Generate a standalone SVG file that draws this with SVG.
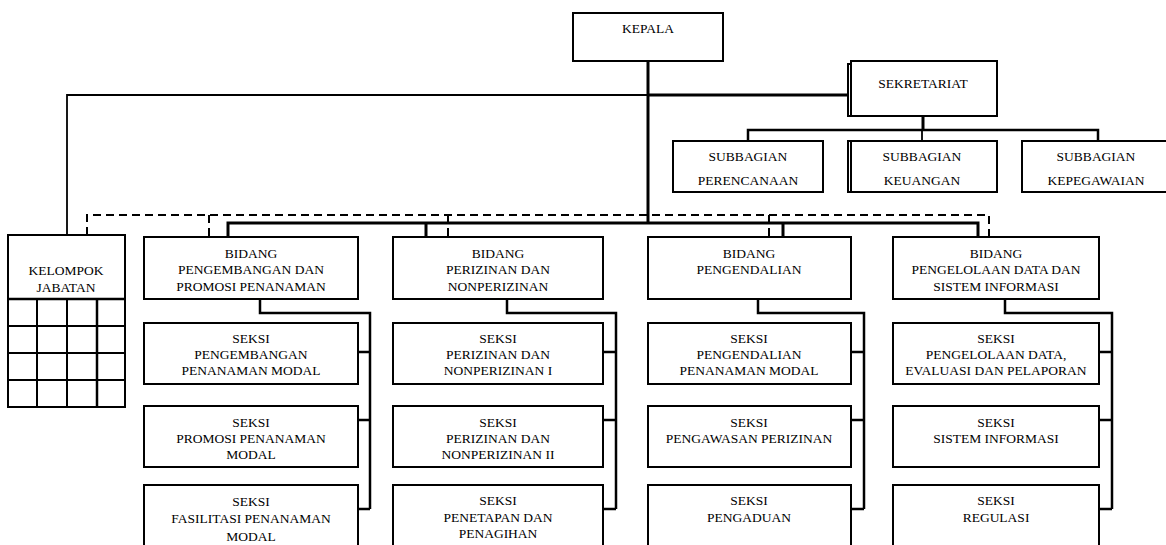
<svg xmlns="http://www.w3.org/2000/svg" width="1166" height="545" viewBox="0 0 1166 545">
<style>
rect{fill:#fff;stroke:#000;stroke-width:2}
text{font-family:"Liberation Serif","Times New Roman",serif;font-size:13.5px;fill:#000;text-anchor:middle}
.c{fill:none;stroke:#000;stroke-width:2.5}
.t{fill:none;stroke:#000;stroke-width:3}
.n{fill:none;stroke:#000;stroke-width:1.8}
.d{fill:none;stroke:#000;stroke-width:2;stroke-dasharray:8,5}
.g{fill:none;stroke:#000;stroke-width:2}
</style>
<rect x="0" y="0" width="1166" height="545" style="fill:#fff;stroke:none"/>
<g id="connectors">
  <path class="t" d="M648,57 V223"/>
  <path class="n" d="M67,235 V95 H648"/>
  <path class="t" d="M648,95 H849"/>
  <path class="t" d="M923,116 V130"/>
  <path class="c" d="M748,141 V130 H1098 V141"/>
  <path class="n" d="M922,130 V141"/>
  <path class="d" d="M87,235 V215 H989 V237"/>
  <path class="d" d="M209,215 V237 M448,215 V237 M769,215 V237"/>
  <path class="t" d="M228,237 V223 H978 V237"/>
  <path class="t" d="M426,223 V237 M783,223 V237"/>
  <path class="c" d="M260,299 V313 H370 V509 M358,352 H370 M358,420 H370 M358,509 H370"/>
  <path class="c" d="M507,299 V313 H616 V509 M603,352 H616 M603,420 H616 M603,509 H616"/>
  <path class="c" d="M758,299 V313 H864 V509 M851,352 H864 M851,420 H864 M851,509 H864"/>
  <path class="c" d="M1005,299 V313 H1112 V509 M1099,352 H1112 M1099,420 H1112 M1099,509 H1112"/>
</g>
<g id="kepala">
  <rect x="573" y="13" width="150" height="48"/>
  <text x="648" y="33">KEPALA</text>
</g>
<g id="sekretariat">
  <rect x="848" y="64" width="149" height="52"/>
  <rect x="851" y="61" width="146" height="55"/>
  <text x="923" y="88">SEKRETARIAT</text>
</g>
<g id="subbagian-perencanaan">
  <rect x="673" y="141" width="150" height="51"/>
  <text x="748" y="161">SUBBAGIAN</text>
  <text x="748" y="185">PERENCANAAN</text>
</g>
<g id="subbagian-keuangan">
  <rect x="848" y="141" width="149" height="51"/>
  <path class="g" d="M851,141 V192"/>
  <text x="922" y="161">SUBBAGIAN</text>
  <text x="922" y="185">KEUANGAN</text>
</g>
<g id="subbagian-kepegawaian">
  <rect x="1022" y="141" width="150" height="51"/>
  <text x="1096" y="161">SUBBAGIAN</text>
  <text x="1096" y="185">KEPEGAWAIAN</text>
</g>
<g id="kelompok-jabatan">
  <rect x="8" y="235" width="117" height="172"/>
  <path class="c" d="M8,299 H125"/>
  <path class="g" d="M8,326 H125 M8,353 H125 M8,380 H125 M37,299 V407 M67,299 V407"/>
  <path class="c" d="M97,299 V407"/>
  <text x="66" y="275">KELOMPOK</text>
  <text x="66" y="292">JABATAN</text>
</g>
<g id="bidang-pengembangan">
  <rect x="144" y="237" width="214" height="62"/>
  <text x="251" y="258">BIDANG</text>
  <text x="251" y="274">PENGEMBANGAN DAN</text>
  <text x="251" y="291">PROMOSI PENANAMAN</text>
</g>
<g id="bidang-perizinan">
  <rect x="393" y="237" width="210" height="62"/>
  <text x="498" y="258">BIDANG</text>
  <text x="498" y="274">PERIZINAN DAN</text>
  <text x="498" y="291">NONPERIZINAN</text>
</g>
<g id="bidang-pengendalian">
  <rect x="648" y="237" width="203" height="62"/>
  <text x="749" y="258">BIDANG</text>
  <text x="749" y="274">PENGENDALIAN</text>
</g>
<g id="bidang-data">
  <rect x="893" y="237" width="206" height="62"/>
  <text x="996" y="258">BIDANG</text>
  <text x="996" y="274">PENGELOLAAN DATA DAN</text>
  <text x="996" y="291">SISTEM INFORMASI</text>
</g>
<g id="seksi-1-1">
  <rect x="144" y="323" width="214" height="61"/>
  <text x="251" y="343">SEKSI</text>
  <text x="251" y="359">PENGEMBANGAN</text>
  <text x="251" y="375">PENANAMAN MODAL</text>
</g>
<g id="seksi-1-2">
  <rect x="144" y="406" width="214" height="61"/>
  <text x="251" y="427">SEKSI</text>
  <text x="251" y="443">PROMOSI PENANAMAN</text>
  <text x="251" y="459">MODAL</text>
</g>
<g id="seksi-1-3">
  <rect x="144" y="485" width="214" height="70"/>
  <text x="251" y="506">SEKSI</text>
  <text x="251" y="523">FASILITASI PENANAMAN</text>
  <text x="251" y="541">MODAL</text>
</g>
<g id="seksi-2-1">
  <rect x="393" y="323" width="210" height="61"/>
  <text x="498" y="343">SEKSI</text>
  <text x="498" y="359">PERIZINAN DAN</text>
  <text x="498" y="375">NONPERIZINAN I</text>
</g>
<g id="seksi-2-2">
  <rect x="393" y="406" width="210" height="61"/>
  <text x="498" y="427">SEKSI</text>
  <text x="498" y="443">PERIZINAN DAN</text>
  <text x="498" y="459">NONPERIZINAN II</text>
</g>
<g id="seksi-2-3">
  <rect x="393" y="485" width="210" height="70"/>
  <text x="498" y="505">SEKSI</text>
  <text x="498" y="522">PENETAPAN DAN</text>
  <text x="498" y="538">PENAGIHAN</text>
</g>
<g id="seksi-3-1">
  <rect x="648" y="323" width="203" height="61"/>
  <text x="749" y="343">SEKSI</text>
  <text x="749" y="359">PENGENDALIAN</text>
  <text x="749" y="375">PENANAMAN MODAL</text>
</g>
<g id="seksi-3-2">
  <rect x="648" y="406" width="203" height="61"/>
  <text x="749" y="427">SEKSI</text>
  <text x="749" y="443">PENGAWASAN PERIZINAN</text>
</g>
<g id="seksi-3-3">
  <rect x="648" y="485" width="203" height="70"/>
  <text x="749" y="505">SEKSI</text>
  <text x="749" y="522">PENGADUAN</text>
</g>
<g id="seksi-4-1">
  <rect x="893" y="323" width="206" height="61"/>
  <text x="996" y="343">SEKSI</text>
  <text x="996" y="359">PENGELOLAAN DATA,</text>
  <text x="996" y="375">EVALUASI DAN PELAPORAN</text>
</g>
<g id="seksi-4-2">
  <rect x="893" y="406" width="206" height="61"/>
  <text x="996" y="427">SEKSI</text>
  <text x="996" y="443">SISTEM INFORMASI</text>
</g>
<g id="seksi-4-3">
  <rect x="893" y="485" width="206" height="70"/>
  <text x="996" y="505">SEKSI</text>
  <text x="996" y="522">REGULASI</text>
</g>
</svg>
